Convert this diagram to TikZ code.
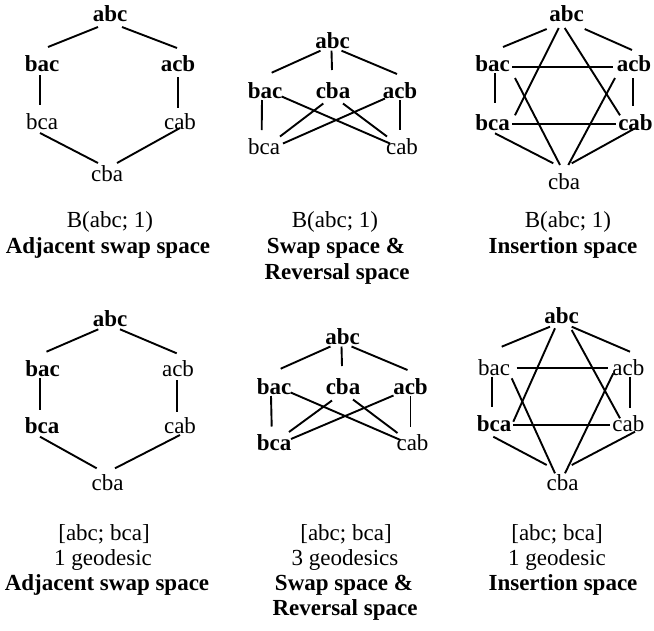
\documentclass[tikz,border=0pt]{standalone}
\usepackage{fontspec}
\setmainfont{Liberation Serif}
\usetikzlibrary{calc}
\newcommand\lnk[6]{\draw ($(#1)+(#2,#3)$) -- ($(#4)+(#5,#6)$);}
\tikzset{
  lbl/.style={inner sep=0pt, text height=13.4pt, text depth=0pt, font=\fontsize{23}{25.5}\selectfont},
  bld/.style={lbl, font=\fontsize{23}{25.5}\selectfont\bfseries},
  captxt/.style={inner sep=0pt, anchor=base, font=\fontsize{23}{25.5}\selectfont},
  bcaptxt/.style={captxt, font=\fontsize{23}{25.5}\selectfont\bfseries},
  every path/.style={line width=1.9pt}
}
\begin{document}
\begin{tikzpicture}[x=1pt,y=-1pt]
\useasboundingbox (0,0) rectangle (654,630);
% ---------- Graph 1 ----------
\node[bld] (g1abc) at (110,15) {abc};
\node[bld] (g1bac) at (42,65) {bac};
\node[bld] (g1acb) at (178,65) {acb};
\node[lbl] (g1bca) at (42,123) {bca};
\node[lbl] (g1cab) at (180,123) {cab};
\node[lbl] (g1cba) at (107,175) {cba};
\lnk{g1bac}{6}{-18}{g1abc}{-12}{12}
\lnk{g1abc}{12}{12}{g1acb}{-1}{-17}
\lnk{g1bac}{-2}{10}{g1bca}{-2}{-18}
\lnk{g1acb}{0}{12}{g1cab}{-2}{-15}
\lnk{g1bca}{-2}{10}{g1cba}{-9}{-12}
\lnk{g1cab}{0}{5}{g1cba}{10}{-12}
\node[captxt] (c1a) at (110,227) {B(abc; 1)};
\node[bcaptxt] (c1b) at (108,253) {Adjacent swap space};
% ---------- Graph 2 ----------
\node[bld] (g2abc) at (332.5,41.7) {abc};
\node[bld] (g2bac) at (265,91.5) {bac};
\node[bld] (g2cba) at (333,91.5) {cba};
\node[bld] (g2acb) at (400,91.5) {acb};
\node[lbl] (g2bca) at (264,147.5) {bca};
\node[lbl] (g2cab) at (402,147.5) {cab};
\lnk{g2bac}{6.7}{-18.8}{g2abc}{-12}{9}
\lnk{g2abc}{-1}{9}{g2cba}{-1}{-21.5}
\lnk{g2abc}{9}{9}{g2acb}{-3}{-17.5}
\lnk{g2bac}{-3}{8.5}{g2bca}{-2.3}{-17.5}
\lnk{g2acb}{0}{8.5}{g2cab}{-2}{-17.5}
\lnk{g2bac}{16.7}{5}{g2cab}{-12}{-4}
\lnk{g2cba}{-9.7}{12}{g2bca}{16}{-11}
\lnk{g2cba}{10}{12}{g2cab}{-15}{-11}
\lnk{g2acb}{-15}{7}{g2bca}{19}{-4}
\node[captxt] (c2a) at (335,227) {B(abc; 1)};
\node[bcaptxt] (c2b) at (336,253) {Swap space \&};
\node[bcaptxt] (c2c) at (337,279) {Reversal space};
% ---------- Graph 3 ----------
\node[bld] (g3abc) at (566.7,15) {abc};
\node[bld] (g3bac) at (492.5,65) {bac};
\node[bld] (g3acb) at (634,65) {acb};
\node[bld] (g3bca) at (492.5,123.3) {bca};
\node[bld] (g3cab) at (635.5,123.3) {cab};
\node[lbl] (g3cba) at (564,182.5) {cba};
\lnk{g3bac}{10.5}{-18}{g3abc}{-20}{14}
\lnk{g3abc}{18}{14}{g3acb}{-2}{-15}
\lnk{g3abc}{-8}{13}{g3bca}{22.5}{-8}
\lnk{g3abc}{-2}{13}{g3cab}{-15.5}{-8}
\lnk{g3bac}{19.5}{1.7}{g3acb}{-21}{1.7}
\lnk{g3bac}{2.5}{8}{g3bca}{2.5}{-20}
\lnk{g3bac}{22.5}{13}{g3cba}{-4}{-17.5}
\lnk{g3acb}{-1}{13}{g3cab}{-2.5}{-17}
\lnk{g3acb}{-19}{13}{g3cba}{4.3}{-17.5}
\lnk{g3bca}{19.5}{0.7}{g3cab}{-20}{0.7}
\lnk{g3bca}{2.5}{10}{g3cba}{-10.7}{-19.2}
\lnk{g3cab}{-0.5}{5}{g3cba}{7.7}{-19.2}
\node[captxt] (c3a) at (568,227) {B(abc; 1)};
\node[bcaptxt] (c3b) at (563,253) {Insertion space};
% ---------- Graph 4 ----------
\node[bld] (g4abc) at (110,320) {abc};
\node[bld] (g4bac) at (42.5,370) {bac};
\node[lbl] (g4acb) at (178,370) {acb};
\node[bld] (g4bca) at (42,426.7) {bca};
\node[lbl] (g4cab) at (180,426.7) {cab};
\node[lbl] (g4cba) at (107.5,483.3) {cba};
\lnk{g4bac}{4}{-18.3}{g4abc}{-11.7}{9.3}
\lnk{g4abc}{10}{9.3}{g4acb}{-1.3}{-16.7}
\lnk{g4bac}{-2.5}{8.3}{g4bca}{-2}{-16.7}
\lnk{g4acb}{-1.3}{10}{g4cab}{-3.3}{-15}
\lnk{g4bca}{-2}{10}{g4cba}{-10.8}{-15}
\lnk{g4cab}{0}{8.3}{g4cba}{7.5}{-15}
\node[captxt] (c4a) at (104,540) {[abc; bca]};
\node[captxt] (c4b) at (103,565) {1 geodesic};
\node[bcaptxt] (c4c) at (107,590) {Adjacent swap space};
% ---------- Graph 5 ----------
\node[bld] (g5abc) at (342.5,337.5) {abc};
\node[bld] (g5bac) at (274,387.5) {bac};
\node[bld] (g5cba) at (343,387.5) {cba};
\node[bld] (g5acb) at (410.5,387.5) {acb};
\node[bld] (g5bca) at (274,444) {bca};
\node[lbl] (g5cab) at (412.5,444) {cab};
\lnk{g5bac}{6.7}{-18.8}{g5abc}{-12}{9}
\lnk{g5abc}{-1}{9}{g5cba}{-1}{-21.5}
\lnk{g5abc}{9}{9}{g5acb}{-3}{-17.5}
\lnk{g5bac}{-3}{8.5}{g5bca}{-2.3}{-17.5}
\lnk{g5acb}{0}{8.5}{g5cab}{-2}{-17.5}
\lnk{g5bac}{16.7}{5}{g5cab}{-12}{-4}
\lnk{g5cba}{-11}{13}{g5bca}{15}{-12}
\lnk{g5cba}{10}{12}{g5cab}{-15}{-11}
\lnk{g5acb}{-17}{8}{g5bca}{17}{-5}
\node[captxt] (c5a) at (346,540) {[abc; bca]};
\node[captxt] (c5b) at (345,565) {3 geodesics};
\node[bcaptxt] (c5c) at (344,590) {Swap space \&};
\node[bcaptxt] (c5d) at (345,615) {Reversal space};
% ---------- Graph 6 ----------
\node[bld] (g6abc) at (561.7,316.7) {abc};
\node[lbl] (g6bac) at (494,368.3) {bac};
\node[lbl] (g6acb) at (628.3,368.3) {acb};
\node[bld] (g6bca) at (494,425) {bca};
\node[lbl] (g6cab) at (628.3,425) {cab};
\node[lbl] (g6cba) at (562.5,484) {cba};
\lnk{g6bac}{7.7}{-21.6}{g6abc}{-11.7}{10}
\lnk{g6abc}{10}{10}{g6acb}{1.7}{-16.6}
\lnk{g6abc}{-6.7}{11.6}{g6bca}{19.3}{-3.3}
\lnk{g6abc}{10}{13.3}{g6cab}{-8.3}{-6.7}
\lnk{g6bac}{22.7}{0}{g6acb}{-20}{0}
\lnk{g6bac}{-2.3}{8.4}{g6bca}{-2.3}{-18.3}
\lnk{g6bac}{17.7}{10}{g6cba}{-7.5}{-10.7}
\lnk{g6acb}{1.7}{8.4}{g6cab}{1.7}{-16.7}
\lnk{g6acb}{-15}{5}{g6cba}{2.5}{-10.7}
\lnk{g6bca}{19.3}{0}{g6cab}{-18}{0}
\lnk{g6bca}{-0.7}{11.7}{g6cba}{-15.8}{-19}
\lnk{g6cab}{6.7}{6.7}{g6cba}{9.2}{-19}
\node[captxt] (c6a) at (557,540) {[abc; bca]};
\node[captxt] (c6b) at (557,565) {1 geodesic};
\node[bcaptxt] (c6c) at (563,590) {Insertion space};
\end{tikzpicture}
\end{document}
